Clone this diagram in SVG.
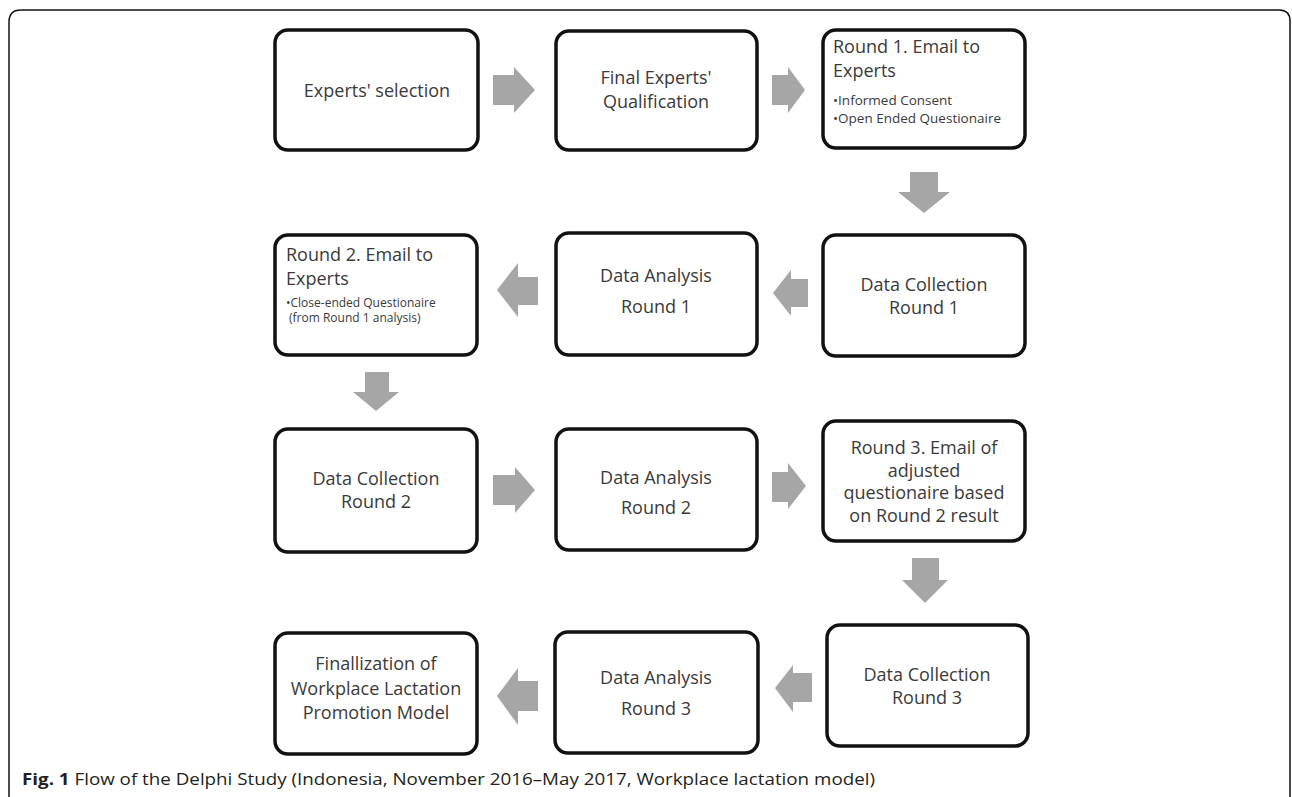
<svg xmlns="http://www.w3.org/2000/svg" width="1292" height="797" viewBox="0 0 1292 797">
<style>
.box{fill:#fff;stroke:#111;stroke-width:3.5}
.t{font-family:"Open Sans","Liberation Sans",sans-serif;font-size:18px;fill:#3a3a3a;text-anchor:middle}
.tl{font-family:"Open Sans","Liberation Sans",sans-serif;font-size:18px;fill:#3a3a3a}
.ts{font-family:"Open Sans","Liberation Sans",sans-serif;font-size:12px;fill:#3a3a3a}
.ts2{font-family:"Open Sans","Liberation Sans",sans-serif;font-size:13.5px;fill:#3a3a3a}
.arr{fill:#a6a6a6}
.cap{font-family:"Open Sans","Liberation Sans",sans-serif;font-size:16.5px;fill:#231f20}
</style>
<rect width="1292" height="797" fill="#fff"/>
<path d="M9,797 V22 Q9,10 21,10 H1279 Q1290,10 1290,21 V797" fill="none" stroke="#111" stroke-width="1.5"/>

<g id="n1"><rect class="box" x="275" y="30" width="203" height="120" rx="13"/><text class="t" x="377" y="97">Experts' selection</text></g>
<g id="n2"><rect class="box" x="556" y="31" width="201" height="119" rx="13"/><text class="t" x="656" y="84">Final Experts'</text><text class="t" x="656" y="108">Qualification</text></g>
<g id="n3"><rect class="box" x="823" y="30" width="202" height="118" rx="13"/><text class="tl" x="833" y="53">Round 1. Email to</text><text class="tl" x="833" y="77">Experts</text><text class="ts2" x="833" y="105">•Informed Consent</text><text class="ts2" x="833" y="123">•Open Ended Questionaire</text></g>

<g id="n4"><rect class="box" x="823" y="235" width="202" height="121" rx="13"/><text class="t" x="924" y="291">Data Collection</text><text class="t" x="924" y="314">Round 1</text></g>
<g id="n5"><rect class="box" x="556" y="233" width="201" height="122" rx="13"/><text class="t" x="656" y="282">Data Analysis</text><text class="t" x="656" y="313">Round 1</text></g>
<g id="n6"><rect class="box" x="275" y="235" width="202" height="120" rx="13"/><text class="tl" x="286" y="261">Round 2. Email to</text><text class="tl" x="286" y="285">Experts</text><text class="ts" x="286" y="307">•Close-ended Questionaire</text><text class="ts" x="289" y="322">(from Round 1 analysis)</text></g>

<g id="n7"><rect class="box" x="275" y="429" width="202" height="123" rx="13"/><text class="t" x="376" y="485">Data Collection</text><text class="t" x="376" y="508">Round 2</text></g>
<g id="n8"><rect class="box" x="556" y="429" width="201" height="121" rx="13"/><text class="t" x="656" y="484">Data Analysis</text><text class="t" x="656" y="514">Round 2</text></g>
<g id="n9"><rect class="box" x="823" y="421" width="202" height="120" rx="13"/><text class="t" x="924" y="454">Round 3. Email of</text><text class="t" x="924" y="477">adjusted</text><text class="t" x="924" y="499">questionaire based</text><text class="t" x="924" y="522">on Round 2 result</text></g>

<g id="n10"><rect class="box" x="827" y="625" width="201" height="121" rx="13"/><text class="t" x="927" y="681">Data Collection</text><text class="t" x="927" y="704">Round 3</text></g>
<g id="n11"><rect class="box" x="555" y="632" width="203" height="121" rx="13"/><text class="t" x="656" y="684">Data Analysis</text><text class="t" x="656" y="715">Round 3</text></g>
<g id="n12"><rect class="box" x="275" y="633" width="202" height="121" rx="13"/><text class="t" x="376" y="670">Finallization of</text><text class="t" x="376" y="695">Workplace Lactation</text><text class="t" x="376" y="719">Promotion  Model</text></g>

<g id="connectors">
<polygon class="arr" points="493,75 514,75 514,67 535,90 514,113 514,105 493,105"/>
<polygon class="arr" points="772,75 788,75 788,67 805,90 788,113 788,105 772,105"/>
<polygon class="arr" points="910,172 938,172 938,192 950,192 924,213 898,192 910,192"/>
<polygon class="arr" points="808,279 791,279 791,270 773,293 791,316 791,307 808,307"/>
<polygon class="arr" points="538,277 518,277 518,263 497,290 518,317 518,305 538,305"/>
<polygon class="arr" points="365,372 389,372 389,392 399,392 376,411 353,392 365,392"/>
<polygon class="arr" points="493,475 515,475 515,467 535,490 515,513 515,505 493,505"/>
<polygon class="arr" points="772,472 788,472 788,463 806,486 788,509 788,502 772,502"/>
<polygon class="arr" points="912,558 939,558 939,580 948,580 925,603 902,580 912,580"/>
<polygon class="arr" points="812,673 793,673 793,665 775,688 793,712 793,702 812,702"/>
<polygon class="arr" points="538,681 518,681 518,668 497,696 518,725 518,711 538,711"/>
</g>

<text class="cap" x="22" y="785" textLength="853" lengthAdjust="spacingAndGlyphs"><tspan font-weight="bold">Fig. 1</tspan> Flow of the Delphi Study (Indonesia, November 2016–May 2017, Workplace lactation model)</text>
</svg>
